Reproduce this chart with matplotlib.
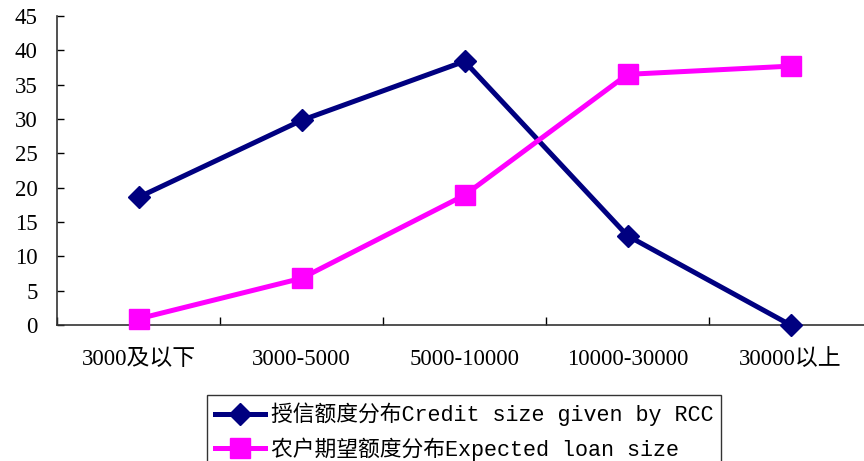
import matplotlib
matplotlib.use("Agg")
import matplotlib.pyplot as plt
import numpy as np

# DATA
categories = ["3000及以下", "3000-5000", "5000-10000", "10000-30000", "30000以上"]
credit_given = [18.6, 29.8, 38.4, 13.0, 0.0]
expected_loan = [0.9, 6.8, 18.9, 36.5, 37.7]
label_credit = "授信额度分布Credit size given by RCC"
label_expected = "农户期望额度分布Expected loan size"

tick_fonts = ["Liberation Serif", "Noto Sans CJK SC"]
legend_fonts = ["Liberation Mono", "Noto Sans CJK SC"]

fig = plt.figure(figsize=(8.64, 4.61), dpi=100)
# plot area runs past the right edge of the figure, as in the original
ax = fig.add_axes([57 / 864, 1 - 325 / 461, 815 / 864, 309 / 461])

x = np.arange(len(categories))

ax.plot(x, credit_given, color="#000080", lw=3.6, marker="D", ms=11,
        label=label_credit, clip_on=False, zorder=3)
ax.plot(x, expected_loan, color="#FF00FF", lw=3.6, marker="s", ms=14.5,
        label=label_expected, clip_on=False, zorder=3)

ax.set_xlim(-0.5, len(categories) - 0.5)
ax.set_ylim(0, 45)
ax.set_yticks(np.arange(0, 46, 5))

ax.set_xticks(x)
ax.set_xticklabels(categories)
ax.set_xticks(np.arange(-0.5, len(categories), 1), minor=True)
ax.tick_params(axis="x", which="major", length=0, pad=17)
ax.tick_params(axis="x", which="minor", direction="in", length=6, width=1)
ax.tick_params(axis="y", direction="in", length=5, width=1, pad=14)

for lbl in ax.get_xticklabels() + ax.get_yticklabels():
    lbl.set_family(tick_fonts)
    lbl.set_fontsize(16.5)

for s in ["top", "right"]:
    ax.spines[s].set_visible(False)
for s in ["left", "bottom"]:
    ax.spines[s].set_color("#333333")
    ax.spines[s].set_linewidth(1.2)

leg = fig.legend(loc="upper left", bbox_to_anchor=(207 / 864, 1 - 395 / 461),
                 prop={"family": legend_fonts, "size": 15.7},
                 frameon=True, fancybox=False, edgecolor="black",
                 handlelength=2.3, handletextpad=0.3, borderpad=0.35,
                 labelspacing=0.5, borderaxespad=0)
leg.get_frame().set_linewidth(1)

fig.savefig("out.png", dpi=100)
